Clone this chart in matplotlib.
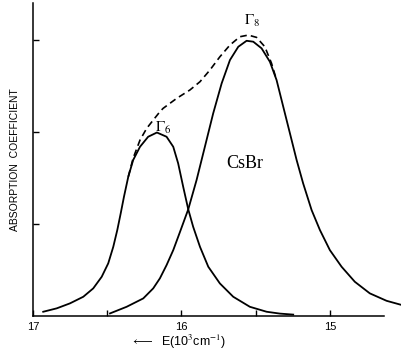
import numpy as np
import matplotlib
matplotlib.use("Agg")
import matplotlib.pyplot as plt

plt.rcParams.update({'font.family': 'Liberation Sans'})
plt.rcParams.update({'mathtext.fontset': 'stix'})

# Gamma6 band (energy in 10^3 cm^-1, absorption in arbitrary units)
g6_E = [16.931, 16.840, 16.751, 16.661, 16.594, 16.537, 16.493, 16.459, 16.432,
        16.409, 16.387, 16.358, 16.325, 16.279, 16.224, 16.165, 16.100, 16.055,
        16.022, 15.988, 15.954, 15.921, 15.875, 15.819, 15.741, 15.651, 15.539,
        15.426, 15.337, 15.247]
g6_y = [0.047, 0.084, 0.138, 0.210, 0.301, 0.427, 0.573, 0.753, 0.935,
        1.116, 1.297, 1.514, 1.696, 1.840, 1.949, 1.995, 1.949, 1.840,
        1.660, 1.405, 1.160, 0.971, 0.753, 0.536, 0.355, 0.210, 0.101,
        0.047, 0.027, 0.016]

# Gamma8 band
g8_E = [16.481, 16.369, 16.257, 16.190, 16.145, 16.100, 16.055, 16.010, 15.954,
        15.898, 15.842, 15.786, 15.729, 15.673, 15.617, 15.561, 15.516, 15.460,
        15.404, 15.359, 15.314, 15.269, 15.224, 15.180, 15.123, 15.067, 15.000,
        14.921, 14.832, 14.731, 14.618, 14.515]
g8_y = [0.029, 0.101, 0.192, 0.301, 0.410, 0.554, 0.717, 0.913, 1.160,
        1.478, 1.840, 2.203, 2.529, 2.783, 2.927, 2.992, 2.982, 2.910,
        2.764, 2.565, 2.275, 1.986, 1.696, 1.442, 1.152, 0.935, 0.717,
        0.536, 0.373, 0.247, 0.166, 0.120]

# measured envelope (dashed)
env_E = [16.358, 16.325, 16.279, 16.234, 16.190, 16.145, 16.123, 16.032, 15.943,
         15.875, 15.808, 15.741, 15.673, 15.606, 15.550, 15.494, 15.438, 15.393,
         15.359]
env_y = [1.514, 1.717, 1.913, 2.040, 2.130, 2.221, 2.258, 2.366, 2.457,
         2.547, 2.674, 2.818, 2.946, 3.036, 3.054, 3.029, 2.927, 2.747,
         2.565]

fig = plt.figure(figsize=(4.02, 3.6), dpi=100)
ax = fig.add_axes([0.082, 0.122, 0.873, 0.869])

ax.plot(g6_E, g6_y, color="k", lw=1.3, clip_on=False)
ax.plot(g8_E, g8_y, color="k", lw=1.3, clip_on=False)
ax.plot(env_E, env_y, color="k", lw=1.2, ls=(0, (4, 2.5)), clip_on=False)

ax.set_xlim(17, 14.636)
ax.set_ylim(0, 3.4)

ax.spines['top'].set_visible(False)
ax.spines['right'].set_visible(False)
ax.spines['left'].set_linewidth(1.1)
ax.spines['bottom'].set_linewidth(1.1)

ax.set_xticks([17, 16.5, 16, 15.5, 15])
ax.set_xticklabels(["17", "", "16", "", "15"])
ax.set_yticks([1, 2, 3])
ax.set_yticklabels([])
ax.tick_params(direction="in", length=4, width=1, labelsize=8, pad=4)

ax.set_ylabel("ABSORPTION  COEFFICIENT", fontsize=7.5, labelpad=5)
ax.set_xlabel(r"$\longleftarrow$  E(10$^3$cm$^{-1}$)", fontsize=9)
ax.xaxis.set_label_coords(0.416, -0.083)
ax.xaxis.label.set_va("center")

ax.text(16.125, 2.05, r"$\Gamma_6$", fontsize=11, ha="center", va="center")
ax.text(15.525, 3.21, r"$\Gamma_8$", fontsize=11, ha="center", va="center")
ax.text(15.572, 1.66, "CsBr", fontsize=13, family="Liberation Serif",
        ha="center", va="center")

plt.savefig("out.png")
